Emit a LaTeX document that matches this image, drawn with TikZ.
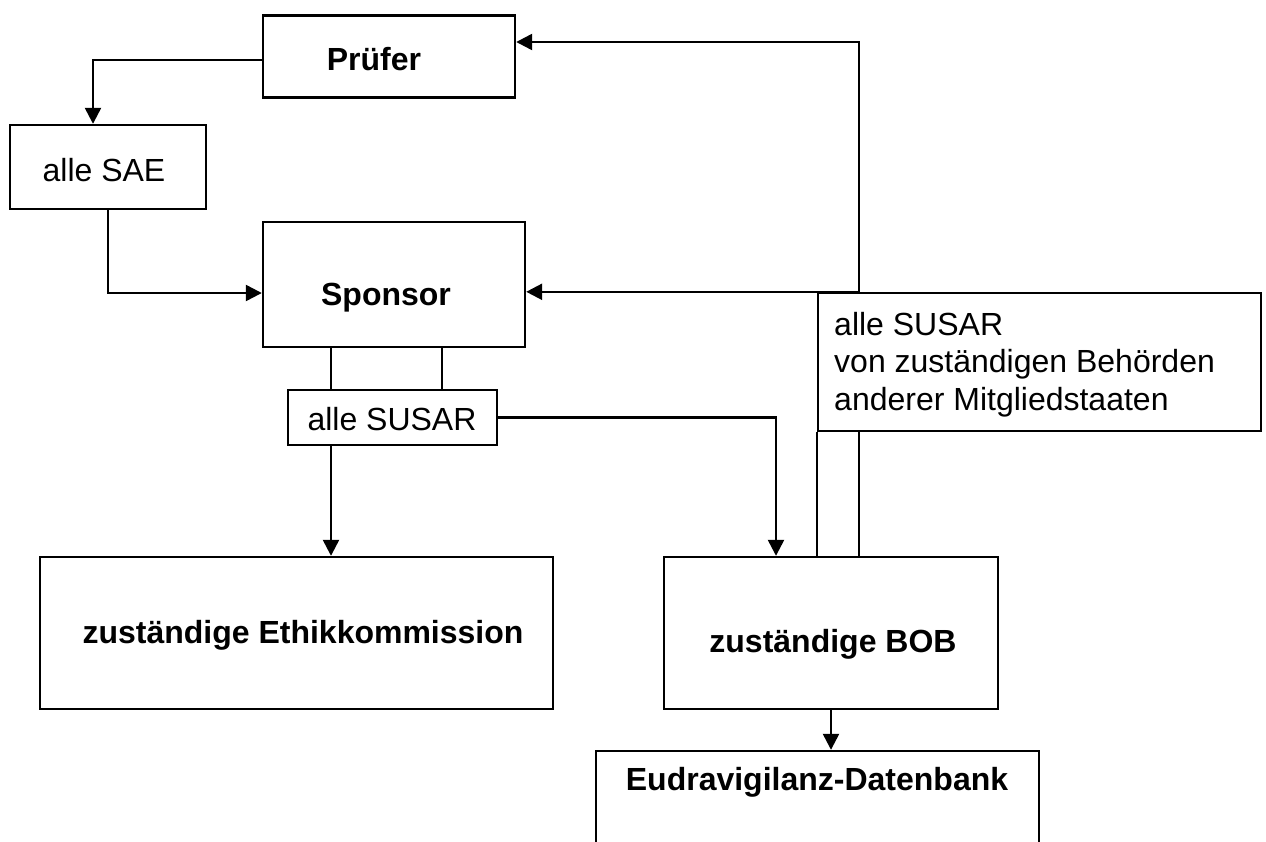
\documentclass[tikz,border=0pt]{standalone}
\usepackage{fontspec}
\setmainfont{Liberation Sans}
\usetikzlibrary{arrows.meta}
\pgfdeclarelayer{back}
\pgfdeclarelayer{bg}
\pgfsetlayers{back,bg,main}
\begin{document}
\begin{tikzpicture}[x=1pt,y=-1pt,
  box/.style={draw,line width=2.4pt,fill=white,inner sep=0pt},
  conn/.style={line width=2.4pt},
  arr/.style={conn,-{Triangle[length=16pt,width=16pt]}},
  lbl/.style={inner sep=0pt,anchor=base,font=\fontsize{32pt}{37.5pt}\selectfont},
  blbl/.style={lbl,font=\fontsize{32pt}{37.5pt}\selectfont\bfseries}]
\clip (0,0) rectangle (1266,841);
\begin{pgfonlayer}{back}
\fill[white] (0,0) rectangle (1266,841);
\end{pgfonlayer}
% boxes
\node[box,minimum width=252pt,minimum height=82pt] (pruefer) at (389,56.5) {};
\node[box,minimum width=196pt,minimum height=84pt] (sae) at (108,167) {};
\node[box,minimum width=262pt,minimum height=125pt] (sponsor) at (394,284.5) {};
\node[box,minimum width=209pt,minimum height=55pt] (susar) at (392.5,417.5) {};
\node[box,minimum width=443pt,minimum height=138pt] (big) at (1039.5,362) {};
\node[box,minimum width=513pt,minimum height=152pt] (ethik) at (296.5,633) {};
\node[box,minimum width=334pt,minimum height=152pt] (bob) at (831,633) {};
\node[box,minimum width=443pt,minimum height=150pt] (eudra) at (817.5,826) {};
% texts
\node[blbl] (tpruefer) at (374,70) {Prüfer};
\node[lbl] (tsae) at (104,181) {alle SAE};
\node[blbl] (tsponsor) at (386,305) {Sponsor};
\node[lbl] (tsusar) at (392,430) {alle SUSAR};
\node[lbl,anchor=base west,align=left] (tbig) at (834,410) {alle SUSAR\\von zuständigen Behörden\\anderer Mitgliedstaaten};
\node[blbl] (tethik) at (303,643) {zuständige Ethikkommission};
\node[blbl] (tbob) at (833,652) {zuständige BOB};
\node[blbl] (teudra) at (817,790) {Eudravigilanz-Datenbank};
\coordinate (up) at ([xshift=28pt]bob.north);
\coordinate (sp) at (up |- big.north);
% connectors
\begin{pgfonlayer}{bg}
\draw[arr] ([yshift=-3.5pt]pruefer.west) -| ([xshift=-15pt]sae.north);
\draw[arr] (sae.south) |- ([yshift=-8.5pt]sponsor.west);
\draw[conn] ([xshift=-63pt]sponsor.south) -- ([xshift=-61.5pt]susar.north);
\draw[conn] ([xshift=48pt]sponsor.south) -- ([xshift=49.5pt]susar.north);
\draw[arr] ([xshift=-61.5pt]susar.south) -- ([xshift=34.5pt]ethik.north);
\draw[arr] (susar.east) -| ([xshift=-55pt]bob.north);
\draw[arr] (bob.south) -- (bob.south |- eudra.north);
\draw[conn] (big.south west) -- (big.south west |- bob.north);
\draw[arr] (up) |- ([yshift=14.5pt]pruefer.east);
\draw[arr] (sp) -- (sp -| sponsor.east);
\end{pgfonlayer}
\end{tikzpicture}
\end{document}
